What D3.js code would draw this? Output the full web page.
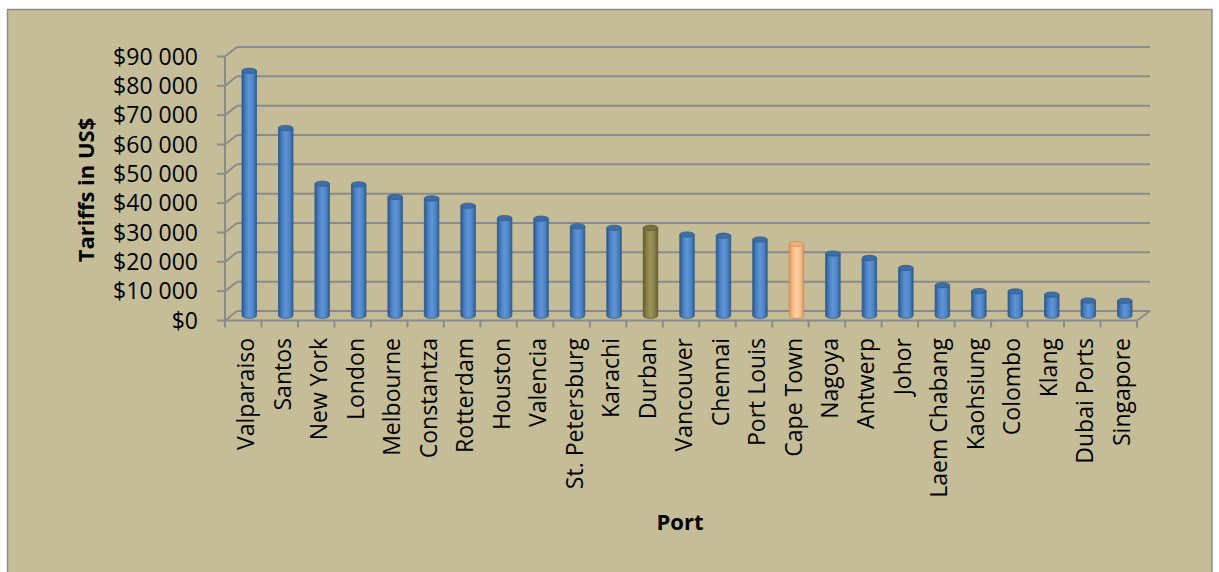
<!DOCTYPE html>
<html>
<head>
<meta charset="utf-8">
<script src="https://cdn.jsdelivr.net/npm/d3@7.9.0/dist/d3.min.js"></script>
<style>
  body { margin: 0; background: #fff; }
  svg { display: block; font-family: "Open Sans", sans-serif; }
</style>
</head>
<body>
<svg id="chart" width="1219" height="572"></svg>
<script>
// Port tariffs (US$)
const ports = ["Valparaiso", "Santos", "New York", "London", "Melbourne", "Constantza",
  "Rotterdam", "Houston", "Valencia", "St. Petersburg", "Karachi", "Durban", "Vancouver",
  "Chennai", "Port Louis", "Cape Town", "Nagoya", "Antwerp", "Johor", "Laem Chabang",
  "Kaohsiung", "Colombo", "Klang", "Dubai Ports", "Singapore"];
const tariffs = [83500, 64000, 45000, 44800, 40500, 40000, 37500, 33300, 33100, 30500,
  30000, 30000, 27700, 27300, 26000, 24500, 21200, 19700, 16300, 10400, 8400, 8300,
  7200, 5200, 5100];
const yTicks = [0, 10000, 20000, 30000, 40000, 50000, 60000, 70000, 80000, 90000];
const highlight = { "Durban": "olive", "Cape Town": "peach" };

const svg = d3.select("#chart");

// chart frame
svg.append("rect")
  .attr("x", 7.5).attr("y", 9.5).attr("width", 1204.5).attr("height", 580)
  .attr("fill", "#c4bd97").attr("stroke", "#8d8d8d").attr("stroke-width", 1.5);

// gradients for the cylinders
const defs = svg.append("defs");
const grads = {
  blue: ["#2e5687", "#4b7fc0", "#5e95d8", "#4f86c8", "#325d92"],
  olive: ["#665d2f", "#8a8049", "#9d935c", "#8c824b", "#6a6132"],
  peach: ["#d9935c", "#f7bb86", "#ffcfa2", "#f9c08e", "#dc9862"]
};
Object.entries(grads).forEach(([k, stops]) => {
  const g = defs.append("linearGradient").attr("id", "g-" + k)
    .attr("x1", 0).attr("x2", 1).attr("y1", 0).attr("y2", 0);
  stops.forEach((c, i) => g.append("stop")
    .attr("offset", (i / (stops.length - 1)) * 100 + "%").attr("stop-color", c));
});
const topColor = { blue: "#3d6ea9", olive: "#7a7140", peach: "#eeae78" };
const edgeColor = { blue: "#2f5a8c", olive: "#5e5530", peach: "#d08d5a" };

// 3d geometry
const depthX = 12, depthY = -9.5;
const x = d3.scaleBand().domain(ports).range([225, 1137]).padding(0);
const y = d3.scaleLinear().domain([0, 90000]).range([320.5, 56.5]);

const grid = svg.append("g").attr("stroke", "#8a8a8a").attr("stroke-width", 2).attr("fill", "none");
yTicks.forEach(v => {
  // back wall line
  grid.append("line")
    .attr("x1", 225 + depthX).attr("x2", 1137 + depthX + 1)
    .attr("y1", y(v) + depthY).attr("y2", y(v) + depthY);
  // side wall line
  grid.append("line")
    .attr("x1", 225).attr("x2", 225 + depthX)
    .attr("y1", y(v)).attr("y2", y(v) + depthY);
  // tick
  grid.append("line")
    .attr("x1", 217).attr("x2", 225).attr("y1", y(v)).attr("y2", y(v));
});
// vertical axis line
grid.append("line").attr("x1", 225).attr("x2", 225).attr("y1", y(0)).attr("y2", y(90000));
// floor front edge and right side
grid.append("line").attr("x1", 225).attr("x2", 1137).attr("y1", y(0)).attr("y2", y(0));
grid.append("line").attr("x1", 1137).attr("x2", 1137 + depthX + 1)
  .attr("y1", y(0)).attr("y2", y(0) + depthY);
// category ticks
d3.range(ports.length + 1).forEach(i => {
  const tx = 225 + i * x.bandwidth();
  grid.append("line").attr("x1", tx).attr("x2", tx).attr("y1", y(0)).attr("y2", y(0) + 7);
});

// y tick labels
svg.append("g").selectAll("text").data(yTicks).join("text")
  .attr("x", 198).attr("y", d => y(d)).attr("dy", "0.36em")
  .attr("text-anchor", "end").attr("font-size", 23).attr("fill", "#000")
  .text(d => "$" + (d === 0 ? "0" : d3.format(",")(d).replace(",", " ")));

// cylinders
const barW = 14.5, ry = 2.6;
const bars = svg.append("g");
ports.forEach((p, i) => {
  const kind = highlight[p] || "blue";
  const cx = x(p) + x.bandwidth() / 2 + depthX / 2;
  const base = y(0) + depthY / 2;
  const top = y(tariffs[i]) + depthY / 2;
  const l = cx - barW / 2, r = cx + barW / 2;
  bars.append("path")
    .attr("d", `M${l},${top} L${l},${base} A${barW / 2},${ry} 0 0 0 ${r},${base} L${r},${top} Z`)
    .attr("fill", `url(#g-${kind})`).attr("stroke", edgeColor[kind]).attr("stroke-width", 0.8);
  bars.append("ellipse")
    .attr("cx", cx).attr("cy", top).attr("rx", barW / 2).attr("ry", ry)
    .attr("fill", topColor[kind]).attr("stroke", edgeColor[kind]).attr("stroke-width", 0.8);
});

// x labels
svg.append("g").selectAll("text").data(ports).join("text")
  .attr("transform", d => `translate(${x(d) + x.bandwidth() / 2 + 3},338) rotate(-90)`)
  .attr("dy", "0.35em").attr("text-anchor", "end")
  .attr("font-size", 23).attr("fill", "#000")
  .text(d => d);

// axis titles
svg.append("text")
  .attr("transform", "translate(86,190) rotate(-90)")
  .attr("dy", "0.35em").attr("text-anchor", "middle")
  .attr("font-size", 22).attr("font-weight", "bold").text("Tariffs in US$");
svg.append("text")
  .attr("x", 680).attr("y", 530).attr("text-anchor", "middle")
  .attr("font-size", 22).attr("font-weight", "bold").text("Port");
</script>
</body>
</html>
